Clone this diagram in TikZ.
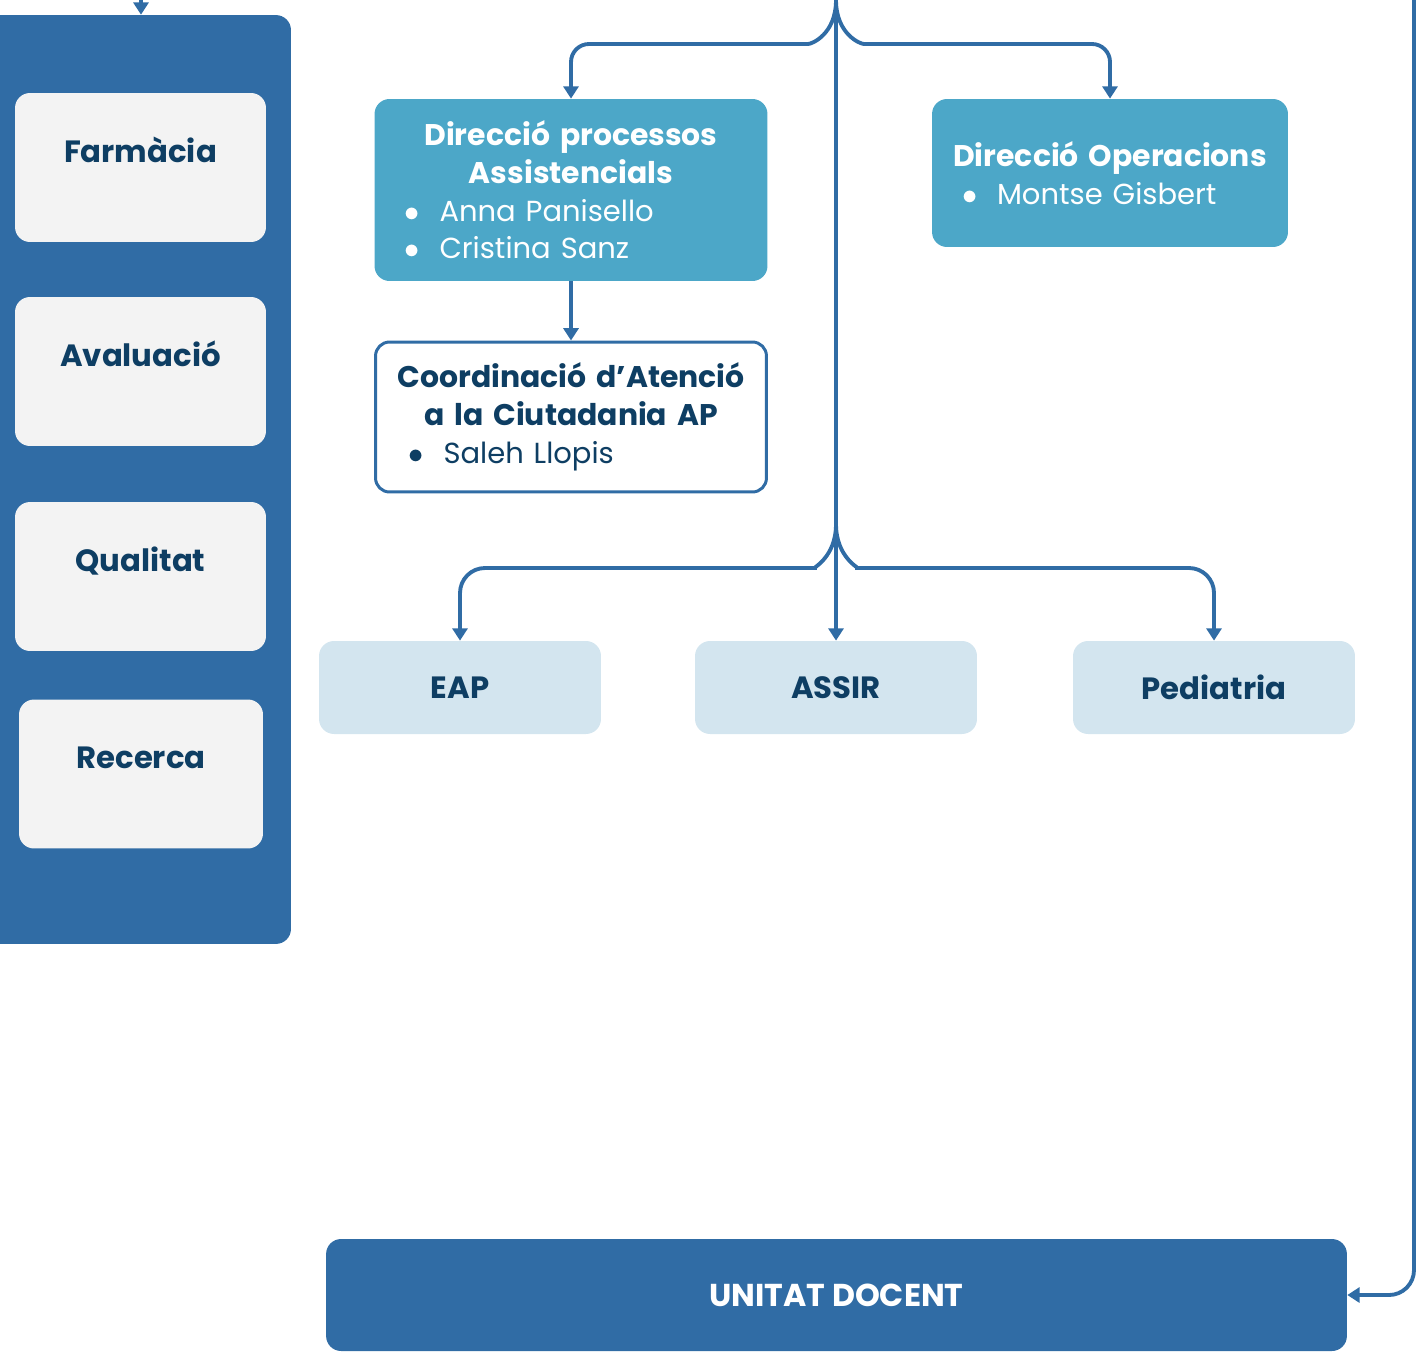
\documentclass[tikz,border=0pt]{standalone}
\usepackage{fontspec}
\setmainfont{Poppins}
\usetikzlibrary{arrows.meta}

\definecolor{panelblue}{RGB}{48,108,165}
\definecolor{tealfill}{RGB}{76,167,200}
\definecolor{greyfill}{RGB}{243,243,243}
\definecolor{palefill}{RGB}{211,229,239}
\definecolor{navy}{RGB}{14,62,99}

\newcommand{\boxfont}{\fontsize{17}{21.5}\selectfont}
\newcommand{\itemfont}{\fontsize{16.5}{21.5}\selectfont\mdseries}
\newcommand{\bul}[2]{\hspace*{#1}\makebox[0.7cm][l]{$\bullet$}{\itemfont #2}}

\tikzset{
  link/.style={draw=panelblue, line width=2.2pt, -{Triangle[width=8.5pt,length=7pt]}},
  panelbox/.style={fill=panelblue, rounded corners=0.3cm, minimum width=6.22cm, minimum height=18.58cm},
  sidebox/.style={fill=greyfill, rounded corners=0.3cm, minimum width=5.02cm, inner ysep=0pt,
    text height=1.38cm, text depth=1.6cm, text=navy, font=\fontsize{17.5}{21.5}\selectfont\bfseries},
  dirbox/.style={fill=tealfill, rounded corners=0.3cm, inner xsep=0pt, align=left, text=white, font=\boxfont},
  coordbox/.style={draw=panelblue, line width=1.7pt, fill=white, rounded corners=0.28cm, inner xsep=0pt,
    align=left, text=navy, font=\boxfont},
  unitbox/.style={fill=palefill, rounded corners=0.3cm, minimum width=5.64cm, minimum height=1.86cm,
    text=navy, font=\fontsize{17.5}{21.5}\selectfont\bfseries},
  docentbox/.style={fill=panelblue, rounded corners=0.3cm, minimum width=20.42cm, minimum height=2.24cm,
    text=white, font=\fontsize{18}{21.5}\selectfont\bfseries}
}

\begin{document}
\begin{tikzpicture}[x=0.02cm, y=-0.02cm]
\useasboundingbox (0,0) rectangle (1422,1362);

% left column
\node[panelbox] (panel) at (135.5,479.5) {};
\node[sidebox] (farm) at (140.5,167.5) {Farmàcia};
\node[sidebox] (aval) at (140.5,371.5) {Avaluació};
\node[sidebox] (qual) at (140.5,576.5) {Qualitat};
\node[sidebox, minimum width=4.88cm] (rec) at (141,774) {Recerca};

% direccions
\node[dirbox, minimum width=7.86cm, minimum height=3.64cm, text width=7.86cm] (dpa) at (571,190)
  {{\centering\bfseries Direcció processos\\Assistencials\par}
   \bul{0.6cm}{Anna Panisello}\\
   \bul{0.6cm}{Cristina Sanz}};
\node[coordbox, minimum width=7.82cm, minimum height=3cm, text width=7.82cm] (coord) at (571,417)
  {{\centering\bfseries Coordinació d’Atenció\\a la Ciutadania AP\par}
   \bul{0.66cm}{Saleh Llopis}};
\node[dirbox, minimum width=7.12cm, minimum height=2.96cm, text width=7.12cm] (dop) at (1110,173)
  {{\centering\bfseries Direcció Operacions\par}
   \bul{0.6cm}{Montse Gisbert}};

% unitats
\node[unitbox] (eap) at (460,687.5) {EAP};
\node[unitbox] (assir) at (836,687.5) {ASSIR};
\node[unitbox] (ped) at (1214,687.5) {Pediatria};
\node[docentbox] (docent) at (836.5,1295) {UNITAT DOCENT};

% connectors
\coordinate (leftin) at (141,0);
\coordinate (trunk) at (836,0);
\coordinate (fork) at (836,524);
\coordinate (rail) at (1414,0);

\draw[link] (leftin) -- (leftin |- panel.north);
\draw[link] (trunk) -- (assir.north);
\draw[link, rounded corners=0.36cm] (trunk) .. controls (836,34) and (812,44) .. (790,44) -- (571,44) -- (dpa.north);
\draw[link, rounded corners=0.36cm] (trunk) .. controls (836,34) and (860,44) .. (882,44) -- (1110,44) -- (dop.north);
\draw[link] (dpa.south) -- (coord.north);
\draw[link, rounded corners=0.5cm] (fork) .. controls (836,558) and (812,568) .. (790,568) -- (460,568) -- (eap.north);
\draw[link, rounded corners=0.5cm] (fork) .. controls (836,558) and (860,568) .. (882,568) -- (1214,568) -- (ped.north);
\draw[link, rounded corners=0.5cm] (rail) |- (docent.east);
\end{tikzpicture}
\end{document}
